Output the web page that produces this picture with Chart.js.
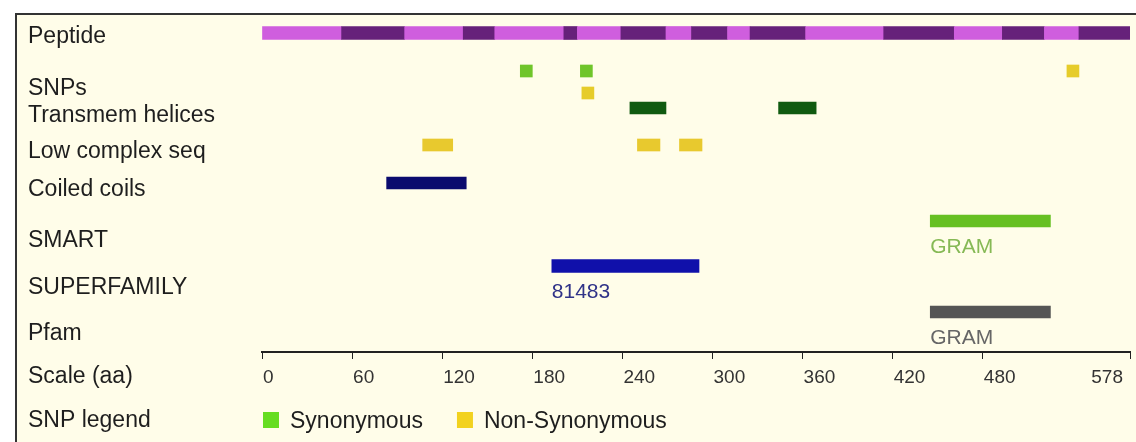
<!DOCTYPE html>
<html>
<head>
<meta charset="utf-8">
<script src="https://cdn.jsdelivr.net/npm/chart.js@4.4.1/dist/chart.umd.min.js"></script>
<style>
  html, body { margin: 0; padding: 0; background: #fff; }
  #wrap { width: 1136px; height: 442px; }
</style>
</head>
<body>
<div id="wrap"><canvas id="chart1" width="1136" height="442"></canvas></div>
<script>
// protein length / scale ticks (aa)
var proteinLength = 578;
var scaleTicks = [0, 60, 120, 180, 240, 300, 360, 420, 480, 578];

// peptide exon boundaries (alternating light / dark)
var peptideBounds = [0, 53, 95, 134, 155, 201, 210, 239, 269, 286, 310, 325, 362, 414, 461, 493, 521, 544, 578];

// SNP positions
var synonymousSnps = [176, 216];
var nonSynonymousSnps = [217, 540];
var nonSynonymousLane = [1, 0];

// features (start / end in aa)
var transmemStart = [245, 344];
var transmemEnd = [269, 369];
var lowComplexStart = [107, 250, 278];
var lowComplexEnd = [127, 265, 293];
var coiledStart = [83];
var coiledEnd = [136];
var smartStart = [445];
var smartEnd = [525];
var smartNames = ['GRAM'];
var superfamilyStart = [193];
var superfamilyEnd = [291];
var superfamilyNames = ['81483'];
var pfamStart = [445];
var pfamEnd = [525];
var pfamNames = ['GRAM'];

var rowNames = ['Peptide', 'SNPs', 'Transmem helices', 'Low complex seq', 'Coiled coils',
                'SMART', 'SUPERFAMILY', 'Pfam', 'Scale (aa)', 'SNP legend'];

// layout (y in pixels, the y scale runs 0..442 top to bottom)
var rowLabelY = [37, 89, 116, 152, 190, 241, 288, 334, 377, 421];
var trackY = {
    peptide: 33, snp: [71, 93], transmem: 108, lowComplex: 145, coiled: 183,
    smart: 221, superfamily: 266, pfam: 312, axis: 352, tickText: 378, legend: 421
};
var snpHalf = 4;
var FONT = "'Liberation Sans', Arial, sans-serif";

function ranges(starts, ends, y) {
    return starts.map(function(s, i){ return { x: [s, ends[i]], y: y }; });
}

// peptide segments
var peptideData = [];
var peptideColors = [];
for (var i = 0; i < peptideBounds.length - 1; i++) {
    peptideData.push({ x: [peptideBounds[i], peptideBounds[i + 1]], y: trackY.peptide });
    peptideColors.push(i % 2 === 0 ? '#cf5ede' : '#66217a');
}

var synData = synonymousSnps.map(function(p){
    return { x: [p - snpHalf, p + snpHalf], y: trackY.snp[0] };
});
var nonSynData = nonSynonymousSnps.map(function(p, i){
    return { x: [p - snpHalf, p + snpHalf], y: trackY.snp[nonSynonymousLane[i]] };
});

// background frame
var framePlugin = {
    id: 'frame',
    beforeDraw: function(chart) {
        var c = chart.ctx;
        c.save();
        c.fillStyle = '#ffffff';
        c.fillRect(0, 0, chart.width, chart.height);
        c.fillStyle = '#fffde9';
        c.fillRect(16, 14, chart.width - 16, chart.height - 14);
        c.strokeStyle = '#333333';
        c.lineWidth = 2;
        c.beginPath();
        c.moveTo(16, chart.height);
        c.lineTo(16, 14);
        c.lineTo(chart.width, 14);
        c.stroke();
        c.restore();
    }
};

// feature names under bars
var namesPlugin = {
    id: 'featureNames',
    afterDatasetsDraw: function(chart) {
        var c = chart.ctx;
        c.save();
        c.font = '21px ' + FONT;
        c.textAlign = 'left';
        c.textBaseline = 'middle';
        chart.data.datasets.forEach(function(ds, di){
            if (!ds.names) return;
            var meta = chart.getDatasetMeta(di);
            meta.data.forEach(function(el, j){
                c.fillStyle = ds.nameColor;
                c.fillText(ds.names[j], Math.min(el.base, el.x), el.y + 26);
            });
        });
        c.restore();
    }
};

// row names, scale numbers + SNP legend
var textPlugin = {
    id: 'textLabels',
    afterDraw: function(chart) {
        var c = chart.ctx;
        var xs = chart.scales.x;
        var ys = chart.scales.y;
        c.save();
        c.textBaseline = 'middle';

        // row names
        c.font = '23px ' + FONT;
        c.fillStyle = '#1e1e1e';
        c.textAlign = 'left';
        rowNames.forEach(function(name, i){
            c.fillText(name, 28, ys.getPixelForValue(rowLabelY[i]));
        });

        // scale numbers
        c.font = '19px ' + FONT;
        c.fillStyle = '#333333';
        var ty = ys.getPixelForValue(trackY.tickText);
        scaleTicks.forEach(function(v, i){
            var px = xs.getPixelForValue(v);
            if (i === scaleTicks.length - 1) {
                c.textAlign = 'right';
                c.fillText(String(v), px - 7, ty);
            } else {
                c.textAlign = 'left';
                c.fillText(String(v), px + 1, ty);
            }
        });

        // legend
        var ly = ys.getPixelForValue(trackY.legend);
        var lx = xs.left + 1;
        c.font = '23px ' + FONT;
        c.textAlign = 'left';
        [chart.data.datasets[1], chart.data.datasets[2]].forEach(function(ds){
            c.fillStyle = ds.legendColor;
            c.fillRect(lx, ly - 9, 16, 16);
            c.fillStyle = '#1e1e1e';
            c.fillText(ds.label, lx + 27, ly + 1);
            lx += 27 + c.measureText(ds.label).width + 34;
        });
        c.restore();
    }
};

var ctx = document.getElementById('chart1');
var chart1 = new Chart(ctx, {
    type: 'bar',
    data: {
        datasets: [
            { label: 'Peptide', data: peptideData, backgroundColor: peptideColors, barThickness: 13 },
            { label: 'Synonymous', data: synData, backgroundColor: '#6fc52a', legendColor: '#66dd22', barThickness: 12 },
            { label: 'Non-Synonymous', data: nonSynData, backgroundColor: '#e6cc2a', legendColor: '#f2d21e', barThickness: 12 },
            { label: 'Transmem helices', data: ranges(transmemStart, transmemEnd, trackY.transmem), backgroundColor: '#105a10', barThickness: 12 },
            { label: 'Low complex seq', data: ranges(lowComplexStart, lowComplexEnd, trackY.lowComplex), backgroundColor: '#e8c92e', barThickness: 12 },
            { label: 'Coiled coils', data: ranges(coiledStart, coiledEnd, trackY.coiled), backgroundColor: '#0b0b6e', barThickness: 12 },
            { label: 'SMART', data: ranges(smartStart, smartEnd, trackY.smart), backgroundColor: '#66c022', barThickness: 12,
              names: smartNames, nameColor: '#86b955' },
            { label: 'SUPERFAMILY', data: ranges(superfamilyStart, superfamilyEnd, trackY.superfamily), backgroundColor: '#1010aa', barThickness: 13,
              names: superfamilyNames, nameColor: '#303388' },
            { label: 'Pfam', data: ranges(pfamStart, pfamEnd, trackY.pfam), backgroundColor: '#555555', barThickness: 12,
              names: pfamNames, nameColor: '#666666' }
        ]
    },
    options: {
        indexAxis: 'y',
        responsive: false,
        animation: false,
        events: [],
        datasets: { bar: { grouped: false, borderWidth: 0 } },
        layout: { padding: { left: 262, right: 6, top: 0, bottom: 0 } },
        scales: {
            x: {
                type: 'linear',
                min: 0,
                max: proteinLength,
                offset: false,
                position: { y: trackY.axis },
                afterBuildTicks: function(s){ s.ticks = scaleTicks.map(function(v){ return { value: v }; }); },
                grid: { drawOnChartArea: false, drawTicks: true, tickLength: 6, color: '#222222', lineWidth: 1 },
                border: { display: true, color: '#222222', width: 2 },
                ticks: { display: false }
            },
            y: {
                type: 'linear',
                display: false,
                offset: false,
                min: 0,
                max: 442,
                reverse: true
            }
        },
        plugins: {
            legend: { display: false },
            tooltip: { enabled: false }
        }
    },
    plugins: [framePlugin, namesPlugin, textPlugin]
});
</script>
</body>
</html>
